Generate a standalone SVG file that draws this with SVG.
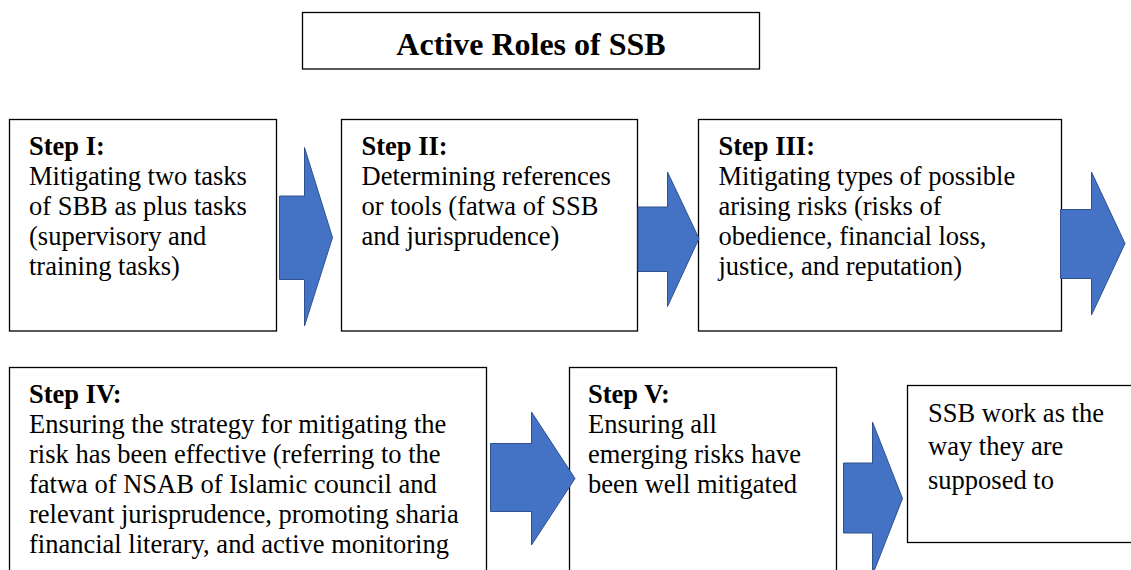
<svg xmlns="http://www.w3.org/2000/svg" width="1131" height="570" viewBox="0 0 1131 570">
<style>
.box{fill:#fff;stroke:#000;stroke-width:1.3}
.arrow{fill:#4472C4;stroke:#2F528F;stroke-width:1}
text{font-family:"Liberation Serif","Times New Roman",serif;font-size:26.5px;fill:#000}
.b{font-weight:bold}
.title{font-size:32px;font-weight:bold}
</style>
<rect width="1131" height="570" fill="#fff"/>
<g id="title">
<rect class="box" x="302.5" y="12.5" width="457" height="56.5"/>
<text class="title" x="531" y="55" text-anchor="middle">Active Roles of SSB</text>
</g>
<g id="step1">
<rect class="box" x="9.5" y="119.5" width="267" height="211.5"/>
<text x="29" y="155"><tspan class="b">Step I:</tspan><tspan x="29" y="185">Mitigating two tasks</tspan><tspan x="29" y="215">of SBB as plus tasks</tspan><tspan x="29" y="245">(supervisory and</tspan><tspan x="29" y="275">training tasks)</tspan></text>
</g>
<g id="step2">
<rect class="box" x="341.5" y="119.5" width="296" height="211.5"/>
<text x="361.5" y="155"><tspan class="b">Step II:</tspan><tspan x="361.5" y="185">Determining references</tspan><tspan x="361.5" y="215">or tools (fatwa of SSB</tspan><tspan x="361.5" y="245">and jurisprudence)</tspan></text>
</g>
<g id="step3">
<rect class="box" x="698.5" y="119.5" width="363" height="211.5"/>
<text x="718.5" y="155"><tspan class="b">Step III:</tspan><tspan x="718.5" y="185">Mitigating types of possible</tspan><tspan x="718.5" y="215">arising risks (risks of</tspan><tspan x="718.5" y="245">obedience, financial loss,</tspan><tspan x="718.5" y="275">justice, and reputation)</tspan></text>
</g>
<g id="step4">
<rect class="box" x="9.5" y="367.5" width="477" height="220"/>
<text x="29" y="403"><tspan class="b">Step IV:</tspan><tspan x="29" y="433">Ensuring the strategy for mitigating the</tspan><tspan x="29" y="463">risk has been effective (referring to the</tspan><tspan x="29" y="493">fatwa of NSAB of Islamic council and</tspan><tspan x="29" y="523">relevant jurisprudence, promoting sharia</tspan><tspan x="29" y="553">financial literary, and active monitoring</tspan></text>
</g>
<g id="step5">
<rect class="box" x="569.5" y="367.5" width="267" height="220"/>
<text x="588" y="403"><tspan class="b">Step V:</tspan><tspan x="588" y="433">Ensuring all</tspan><tspan x="588" y="463">emerging risks have</tspan><tspan x="588" y="493">been well mitigated</tspan></text>
</g>
<g id="result">
<rect class="box" x="907.5" y="385.5" width="240" height="157"/>
<text x="928" y="421.5"><tspan>SSB work as the</tspan><tspan x="928" y="455">way they are</tspan><tspan x="928" y="488.5">supposed to</tspan></text>
</g>
<g id="connectors">
<polygon class="arrow" points="279.5,196 304.5,196 304.5,147.5 332.5,237.5 304.5,326 304.5,279.5 279.5,279.5"/>
<polygon class="arrow" points="638,207 667.5,207 667.5,172 699,238.5 667.5,306.5 667.5,271.5 638,271.5"/>
<polygon class="arrow" points="1060.5,209.5 1091.5,209.5 1091.5,172 1125,243.5 1091.5,315 1091.5,278.5 1060.5,278.5"/>
<polygon class="arrow" points="490.5,443.5 531.5,443.5 531.5,412 575,478.5 531.5,545 531.5,511.5 490.5,511.5"/>
<polygon class="arrow" points="843.5,463 872.5,463 872.5,422 902.5,498.5 872.5,575 872.5,533 843.5,533"/>
</g>
</svg>
